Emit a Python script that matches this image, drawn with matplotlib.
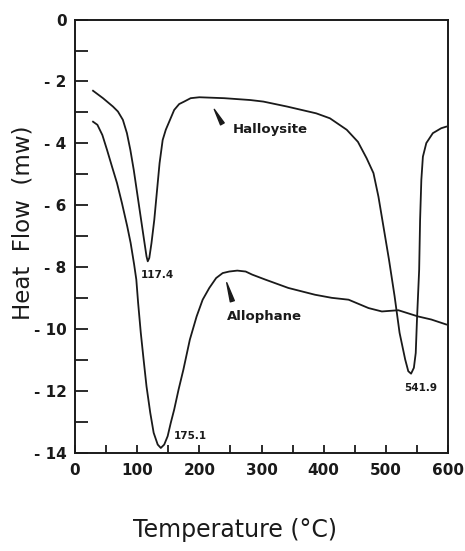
import numpy as np
import matplotlib
matplotlib.use('Agg')
import matplotlib.pyplot as plt
from matplotlib.ticker import MultipleLocator

# DATA ------------------------------------------------------------------
# Halloysite curve (temperature in C, heat flow in mW)
hal_t = [29, 45, 61, 69, 77, 83.5, 89, 94.5, 100, 105.5, 111, 115, 117, 119.5,
         123, 127.5, 132, 136, 141, 146, 151.5, 159.5, 167.5, 175.5, 186, 200,
         240, 282, 303, 341, 388, 410, 437, 455, 469, 480, 488, 496, 505, 514,
         522, 531, 536, 540.5, 545, 548, 550, 553.5, 555, 557, 559.5, 565, 575.5,
         589, 597]
hal_q = [-2.30, -2.54, -2.81, -2.97, -3.24, -3.67, -4.21, -4.86, -5.61, -6.36,
         -7.11, -7.65, -7.81, -7.70, -7.22, -6.47, -5.50, -4.64, -3.89, -3.56,
         -3.30, -2.92, -2.73, -2.65, -2.54, -2.51, -2.54, -2.60, -2.65, -2.81,
         -3.03, -3.19, -3.56, -3.95, -4.48, -4.96, -5.72, -6.68, -7.76, -8.94,
         -10.12, -10.98, -11.36, -11.44, -11.25, -10.77, -9.69, -8.08, -6.47,
         -5.18, -4.43, -3.99, -3.67, -3.51, -3.46]

# Allophane curve
allo_t = [29, 36, 44, 51.5, 59.5, 67.5, 75.5, 84, 89.5, 95, 98.6, 101.5, 105.8,
          110.3, 115, 121, 126.5, 133, 138, 143.5, 149, 154, 159.5, 166.6, 174.3,
          184.7, 195.6, 205.3, 216, 227, 237.5, 248, 261, 274.5, 285, 306, 343,
          386, 413, 440, 472, 493.5, 520, 551.5, 573, 597]
allo_q = [-3.30, -3.40, -3.73, -4.21, -4.75, -5.28, -5.93, -6.68, -7.22, -7.90,
          -8.40, -9.15, -10.12, -10.98, -11.85, -12.70, -13.35, -13.73, -13.84,
          -13.73, -13.46, -13.03, -12.60, -11.95, -11.31, -10.34, -9.59, -9.05,
          -8.67, -8.35, -8.19, -8.14, -8.11, -8.14, -8.24, -8.40, -8.67, -8.89,
          -8.99, -9.05, -9.32, -9.43, -9.39, -9.59, -9.69, -9.85]

# Peak labels (text, x, y)
peak_labels = ['117.4', '175.1', '541.9']
peak_x = [106, 159, 530]
peak_y = [-8.25, -13.46, -11.9]

# Curve names, label positions and pointer (tip, base)
names = ['Halloysite', 'Allophane']
name_x = [253, 245]
name_y = [-3.56, -9.59]
tip_x = [224, 244]
tip_y = [-2.9, -8.5]
base_x = [237, 253]
base_y = [-3.37, -9.1]

x_ticks = [0, 100, 200, 300, 400, 500, 600]
y_ticks = [0, -2, -4, -6, -8, -10, -12, -14]

# PLOT ------------------------------------------------------------------
ink = '#1a1a1a'
fig = plt.figure(figsize=(4.65, 5.51), dpi=100)
ax = fig.add_axes([0.1613, 0.178, 0.8023, 0.7865])

ax.plot(hal_t, hal_q, color=ink, lw=1.3)
ax.plot(allo_t, allo_q, color=ink, lw=1.3)

ax.set_xlim(0, 600)
ax.set_ylim(-14, 0)

ax.set_xticks(x_ticks)
ax.set_xticklabels([str(v) for v in x_ticks])
ax.set_yticks(y_ticks)
ax.set_yticklabels(['0' if v == 0 else '- %d' % (-v) for v in y_ticks])
ax.xaxis.set_minor_locator(MultipleLocator(50))
ax.yaxis.set_minor_locator(MultipleLocator(1))

ax.tick_params(axis='both', which='both', direction='in', top=False, right=False,
               width=1.3, colors=ink)
ax.tick_params(axis='x', which='both', length=6, pad=7)
ax.tick_params(axis='y', which='both', length=9, pad=6)
for lab in ax.get_xticklabels() + ax.get_yticklabels():
    lab.set_fontweight('bold')
    lab.set_fontsize(11)
    lab.set_family('DejaVu Sans')

for sp in ax.spines.values():
    sp.set_linewidth(1.4)
    sp.set_color(ink)

for txt, x, y in zip(peak_labels, peak_x, peak_y):
    ax.text(x, y, txt, fontsize=7.5, fontweight='bold', ha='left', va='center',
            family='DejaVu Sans', color=ink)

for i in range(len(names)):
    ax.text(name_x[i], name_y[i], names[i], fontsize=9.5, fontweight='bold',
            ha='left', va='center', family='DejaVu Sans', color=ink)
    ax.annotate('', xy=(tip_x[i], tip_y[i]), xytext=(base_x[i], base_y[i]),
                arrowprops=dict(arrowstyle='wedge,tail_width=0.3', color=ink,
                                shrinkA=0, shrinkB=0))

ax.set_xlabel('Temperature (°C)', fontsize=17, color=ink)
ax.set_ylabel('Heat  Flow  (mw)', fontsize=16.5, color=ink)
ax.xaxis.set_label_coords(0.43, -0.15)
ax.yaxis.label.set_rotation_mode('default')
ax.yaxis.label.set_va('center')
ax.yaxis.label.set_ha('center')
ax.yaxis.set_label_coords(-0.14, 0.53)

fig.savefig('out.png', dpi=100)
